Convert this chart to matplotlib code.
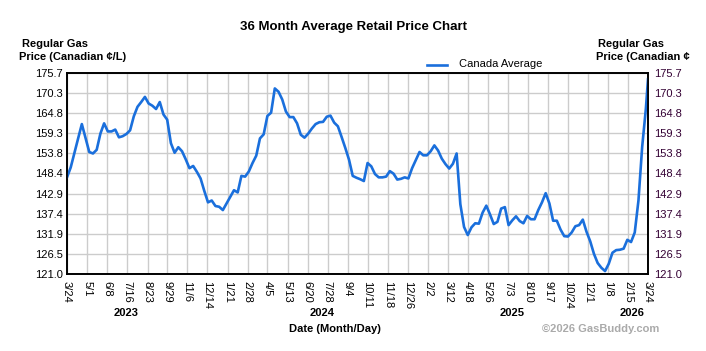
import matplotlib
matplotlib.use('Agg')
import matplotlib.pyplot as plt
import numpy as np
import pandas as pd

plt.rcParams['font.family'] = ['Liberation Sans', 'DejaVu Sans']

# weekly Canada average, cents per litre
start_date = '2023-03-24'
end_date = '2026-03-24'
weekly_price = [
    147.3, 150.0, 154.0, 157.9, 161.8, 158.0, 154.2, 153.8, 154.8, 159.2,
    162.0, 159.8, 159.8, 160.3, 158.2, 158.5, 159.1, 160.1, 163.9, 166.5,
    167.8, 169.2, 167.4, 166.8, 165.9, 167.8, 164.4, 163.0, 156.6, 154.0,
    155.5, 154.4, 152.2, 149.8, 150.4, 148.8, 147.0, 143.6, 140.5, 141.0,
    139.5, 139.3, 138.4, 140.2, 142.0, 143.8, 143.2, 147.7, 147.5, 148.9,
    151.2, 153.2, 157.9, 159.0, 164.0, 164.9, 171.5, 170.6, 168.5, 165.2,
    163.7, 163.7, 162.0, 158.9, 158.1, 159.2, 160.6, 161.8, 162.3, 162.4,
    163.8, 164.1, 162.2, 161.2, 158.3, 155.3, 152.1, 147.7, 147.2, 146.8,
    146.3, 151.2, 150.3, 148.2, 147.3, 147.3, 147.5, 149.0, 148.3, 146.7,
    146.9, 147.3, 147.0, 149.8, 152.0, 154.2, 153.3, 153.3, 154.4, 156.0,
    154.6, 152.4, 150.9, 149.7, 151.0, 153.8, 140.0, 133.8, 131.6, 133.7,
    134.8, 134.7, 137.7, 139.6, 137.2, 134.6, 135.2, 138.8, 139.2, 134.3,
    135.6, 136.7, 135.4, 134.8, 136.8, 135.9, 135.9, 138.4, 140.5, 143.0,
    140.2, 135.5, 135.5, 133.1, 131.3, 131.2, 132.3, 134.0, 134.3, 135.8,
    132.5, 129.9, 126.5, 124.0, 122.7, 121.8, 123.8, 126.8, 127.5, 127.6,
    127.9, 130.3, 129.7, 132.3, 141.0, 155.6, 166.0,
]
end_price = 174.0

tick_dates = [
    '2023-03-24', '2023-05-01', '2023-06-08', '2023-07-16', '2023-08-23',
    '2023-09-29', '2023-11-06', '2023-12-14', '2024-01-21', '2024-02-28',
    '2024-04-05', '2024-05-13', '2024-06-20', '2024-07-28', '2024-09-04',
    '2024-10-11', '2024-11-18', '2024-12-26', '2025-02-02', '2025-03-12',
    '2025-04-18', '2025-05-26', '2025-07-03', '2025-08-10', '2025-09-17',
    '2025-10-24', '2025-12-01', '2026-01-08', '2026-02-15', '2026-03-24',
]
ytick_labels = ['121.0', '126.5', '131.9', '137.4', '142.9', '148.4',
                '153.8', '159.3', '164.8', '170.3', '175.7']
y_min, y_max = 121.0, 175.7
years = ['2023', '2024', '2025', '2026']
year_x = [126, 322, 512, 632]

dates = list(pd.date_range(start_date, periods=len(weekly_price), freq='7D'))
dates.append(pd.Timestamp(end_date))
prices = weekly_price + [end_price]

W, H = 706, 351
fig = plt.figure(figsize=(W / 100, H / 100), dpi=100)
ax = fig.add_axes([67 / W, 1 - 274 / H, (648 - 67) / W, (274 - 73) / H])

def px(x, y):
    return x / W, 1 - y / H

ax.plot(dates, prices, color='#1a6fdc', linewidth=1.9, zorder=3)

ticks = pd.to_datetime(tick_dates)
ax.set_xlim(ticks[0], ticks[-1])
ax.set_xticks(ticks)
ax.set_xticklabels([f'{d.month}/{d.day}' for d in ticks])
yt = np.linspace(y_min, y_max, len(ytick_labels))
ax.set_ylim(y_min, y_max)
ax.set_yticks(yt)
ax.set_yticklabels(ytick_labels)
ax.set_axisbelow(True)
ax.grid(True, color='#cccccc', linewidth=1.0)
ax.tick_params(axis='x', length=0, pad=5, labelsize=8, labelrotation=-90)
ax.tick_params(axis='y', length=0, pad=3, labelsize=8, colors='black')
for s in ax.spines.values():
    s.set_linewidth(1.2)
    s.set_color('black')

ax2 = ax.twinx()
ax2.set_ylim(y_min, y_max)
ax2.set_yticks(yt)
ax2.set_yticklabels(ytick_labels)
ax2.tick_params(axis='y', length=0, pad=4.5, labelsize=8, labelcolor='#330033')
for s in ax2.spines.values():
    s.set_linewidth(1.2)

fig.text(*px(353, 27), '36 Month Average Retail Price Chart', ha='center',
         va='center', fontsize=9.5, fontweight='bold')
fig.text(*px(22, 44), 'Regular Gas', ha='left', va='center', fontsize=8,
         fontweight='bold')
fig.text(*px(19, 57), 'Price (Canadian \u00a2/L)', ha='left', va='center',
         fontsize=8, fontweight='bold')
fig.text(*px(598, 44), 'Regular Gas', ha='left', va='center', fontsize=8,
         fontweight='bold')
fig.text(*px(596, 57), 'Price (Canadian \u00a2', ha='left', va='center',
         fontsize=8, fontweight='bold')

fig.add_artist(plt.Line2D([427 / W, 447 / W], [1 - 65 / H, 1 - 65 / H],
                          color='#1a6fdc', linewidth=1.9))
fig.text(*px(459, 64), 'Canada Average', ha='left', va='center', fontsize=8)

for yr, x in zip(years, year_x):
    fig.text(*px(x, 313), yr, ha='center', va='center', fontsize=8,
             fontweight='bold')
fig.text(*px(335, 329), 'Date (Month/Day)', ha='center', va='center',
         fontsize=8, fontweight='bold')
fig.text(*px(542, 329), '\u00a92026 GasBuddy.com', ha='left', va='center',
         fontsize=8, fontweight='bold', color='#aaaaaa')

fig.savefig('out.png', dpi=100)
